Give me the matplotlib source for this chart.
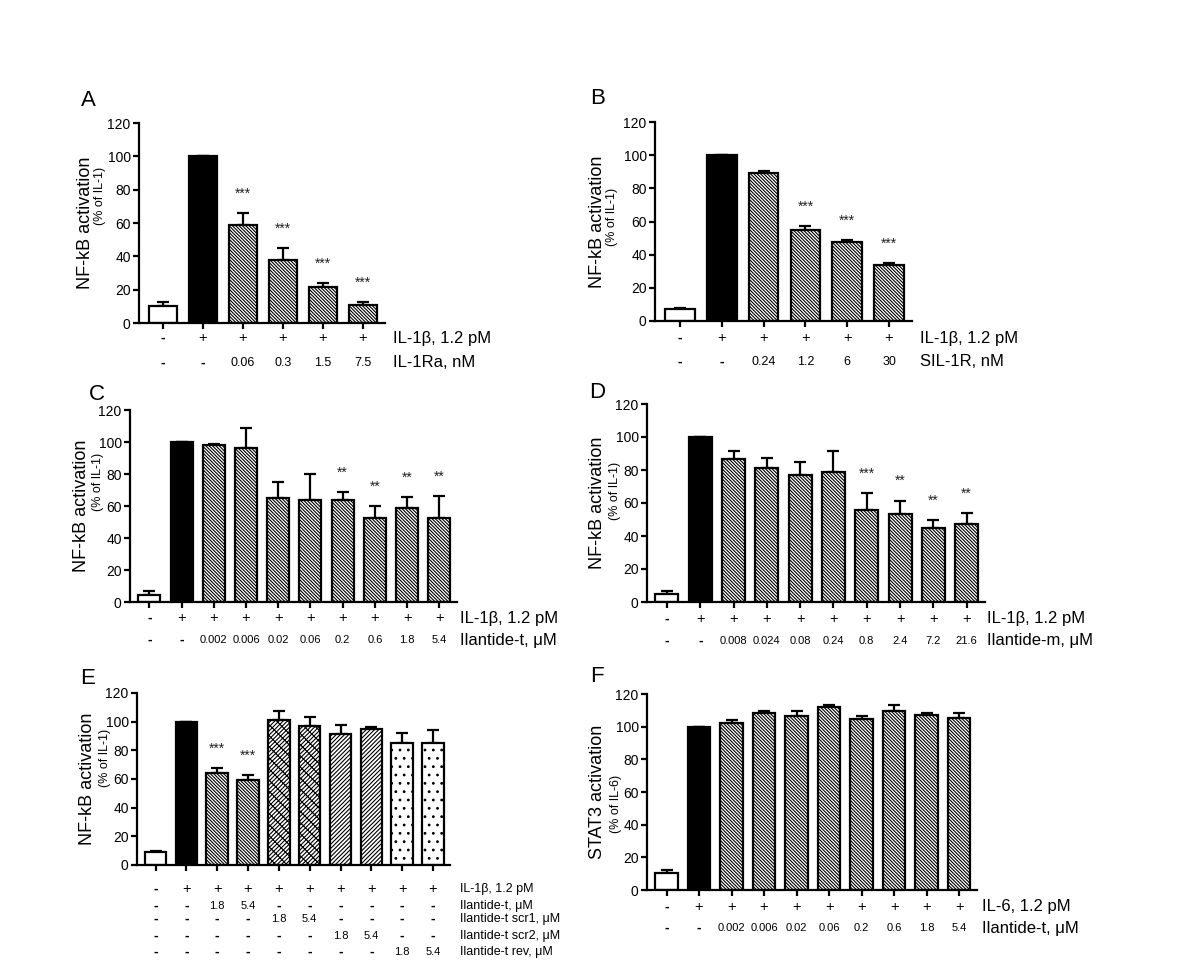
import matplotlib
matplotlib.use("Agg")
import matplotlib.pyplot as plt
from matplotlib.transforms import blended_transform_factory

plt.rcParams['font.family'] = ['Liberation Sans', 'DejaVu Sans']
plt.rcParams['hatch.linewidth'] = 0.8

W, H = 1200, 975

# ---- data ----
a_mean = [10, 100, 59, 38, 21.5, 11]
a_err = [2.5, 0, 7, 7, 2.5, 1.5]
a_stars = ['', '', '***', '***', '***', '***']
a_row1 = ['-', '+', '+', '+', '+', '+']
a_row2 = ['-', '-', '0.06', '0.3', '1.5', '7.5']

b_mean = [7, 100, 89, 55, 47.5, 34]
b_err = [1, 0, 1.5, 2, 1.5, 1]
b_stars = ['', '', '', '***', '***', '***']
b_row2 = ['-', '-', '0.24', '1.2', '6', '30']

c_mean = [4.5, 100, 98, 96.5, 65, 63.5, 63.5, 52.5, 58.5, 52.5]
c_err = [2.5, 0, 1, 12, 10, 16.5, 5, 7.5, 7, 13.5]
c_stars = ['', '', '', '', '', '', '**', '**', '**', '**']
c_row2 = ['-', '-', '0.002', '0.006', '0.02', '0.06', '0.2', '0.6', '1.8', '5.4']

d_mean = [5, 100, 86.5, 81, 77, 78.5, 56, 53.5, 45, 47.5]
d_err = [1.5, 0, 5, 6.5, 8, 13, 10, 8, 4.5, 6.5]
d_stars = ['', '', '', '', '', '', '***', '**', '**', '**']
d_row2 = ['-', '-', '0.008', '0.024', '0.08', '0.24', '0.8', '2.4', '7.2', '21.6']

e_mean = [9, 100, 64, 59.5, 101, 97, 91.5, 95, 85, 85]
e_err = [1, 0, 3.5, 3, 6.5, 6.5, 6.5, 1.5, 7, 9]
e_stars = ['', '', '***', '***', '', '', '', '', '', '']
e_rows = [['-', '+', '+', '+', '+', '+', '+', '+', '+', '+'],
          ['-', '-', '1.8', '5.4', '-', '-', '-', '-', '-', '-'],
          ['-', '-', '-', '-', '1.8', '5.4', '-', '-', '-', '-'],
          ['-', '-', '-', '-', '-', '-', '1.8', '5.4', '-', '-'],
          ['-', '-', '-', '-', '-', '-', '-', '-', '1.8', '5.4']]
e_names = ['IL-1β, 1.2 pM', 'Ilantide-t, μM', 'Ilantide-t scr1, μM',
           'Ilantide-t scr2, μM', 'Ilantide-t rev, μM']

f_mean = [10.5, 100, 102.5, 108.5, 106.5, 112, 105, 109.5, 107, 105.5]
f_err = [1.5, 0, 1.5, 1, 3, 1, 1.5, 4, 1.5, 3]
f_stars = [''] * 10

row1_10 = ['-', '+', '+', '+', '+', '+', '+', '+', '+', '+']

HB = '\\' * 10
hatch6 = [None, None] + [HB] * 4
hatch10 = [None, None] + [HB] * 8
hatch_e = [None, None, HB, HB, '/' * 8 + '\\' * 3, '/' * 8 + '\\' * 3,
           '/' * 8, '/' * 8, '..', '..']

fig = plt.figure(figsize=(12, 9.75), dpi=100)


def panel(box, means, errs, hatches, stars, rows, names, row_y, name_x,
          row_fs, name_fs, letter, letter_xy, ylab, sublab, ylab_x, sub_y,
          width=0.7):
    x0, x1, ytop, ybot = box
    ax = fig.add_axes([x0 / W, 1 - ybot / H, (x1 - x0) / W, (ybot - ytop) / H])
    n = len(means)
    xs = list(range(n))
    for i in xs:
        fc = 'black' if i == 1 else 'white'
        ax.bar(i, means[i], width=width, color=fc, edgecolor='black',
               linewidth=1.6, hatch=hatches[i], zorder=2)
    lower = [0] * n
    ax.errorbar(xs, means, yerr=[lower, errs], fmt='none', ecolor='black',
                elinewidth=1.6, capsize=4.5, capthick=1.6, zorder=1)
    for i in xs:
        if stars[i]:
            ax.annotate(stars[i], (i, means[i] + errs[i]), xytext=(0, 14),
                        textcoords='offset points', ha='center', va='center',
                        fontsize=10, color='#222222')
    ax.set_xlim(-0.6, n - 0.45)
    ax.set_ylim(0, 120)
    ax.set_yticks(range(0, 121, 20))
    ax.set_xticks(xs)
    ax.set_xticklabels([])
    for s in ['top', 'right']:
        ax.spines[s].set_visible(False)
    for s in ['left', 'bottom']:
        ax.spines[s].set_linewidth(1.6)
    ax.tick_params(axis='both', width=1.6, length=4, labelsize=10, pad=2)

    tr = blended_transform_factory(ax.transData, fig.transFigure)
    for r, (labels, name, py) in enumerate(zip(rows, names, row_y)):
        fs = row_fs[r]
        for i, lab in enumerate(labels):
            if lab == '-':
                ax.text(i, 1 - py / H, lab, transform=tr, ha='center',
                        va='center', fontsize=10, fontweight='bold')
            else:
                ax.text(i, 1 - py / H, lab, transform=tr, ha='center',
                        va='center', fontsize=fs)
        fig.text(name_x / W, 1 - py / H, name, ha='left', va='center',
                 fontsize=name_fs)

    fig.text(letter_xy[0] / W, 1 - letter_xy[1] / H, letter, fontsize=16,
             ha='center', va='center')
    ymid = 1 - (ytop + ybot) / 2 / H
    fig.text(ylab_x[0] / W, ymid, ylab, rotation=90, ha='center', va='center',
             fontsize=13)
    fig.text(ylab_x[1] / W, 1 - sub_y / H, sublab, rotation=90, ha='center',
             va='center', fontsize=9)
    return ax


panel((139, 385, 123, 323), a_mean, a_err, hatch6, a_stars,
      [a_row1, a_row2], ['IL-1β, 1.2 pM', 'IL-1Ra, nM'], [338, 363], 393,
      [10.5, 9], 12, 'A', (88, 100), 'NF-kB activation', '(% of IL-1)',
      (85, 100), 196, width=0.72)

panel((655, 912, 122, 321), b_mean, b_err, hatch6, b_stars,
      [a_row1, b_row2], ['IL-1β, 1.2 pM', 'SIL-1R, nM'], [338, 362], 920,
      [10.5, 9], 12, 'B', (598, 98), 'NF-kB activation', '(% of IL-1)',
      (598, 612), 217, width=0.71)

panel((130, 457, 410, 602), c_mean, c_err, hatch10, c_stars,
      [row1_10, c_row2], ['IL-1β, 1.2 pM', 'Ilantide-t, μM'], [618, 640], 460,
      [10.5, 8], 12, 'C', (97, 395), 'NF-kB activation', '(% of IL-1)',
      (82, 98), 482, width=0.68)

panel((647, 985, 404, 602), d_mean, d_err, hatch10, d_stars,
      [row1_10, d_row2], ['IL-1β, 1.2 pM', 'Ilantide-m, μM'], [619, 641], 987,
      [10.5, 8], 12, 'D', (597, 392), 'NF-kB activation', '(% of IL-1)',
      (598, 615), 491, width=0.69)

panel((137, 450, 693, 865), e_mean, e_err, hatch_e, e_stars,
      e_rows, e_names, [889, 906, 919, 936, 952], 460,
      [10.5, 8, 8, 8, 8], 9, 'E', (88, 678), 'NF-kB activation',
      '(% of IL-1)', (88, 105), 758, width=0.7)

panel((647, 977, 694, 890), f_mean, f_err, hatch10, f_stars,
      [row1_10, c_row2], ['IL-6, 1.2 pM', 'Ilantide-t, μM'], [907, 928], 982,
      [10.5, 8], 12, 'F', (597, 677), 'STAT3 activation', '(% of IL-6)',
      (598, 616), 804, width=0.7)

fig.savefig('out.png', dpi=100)
